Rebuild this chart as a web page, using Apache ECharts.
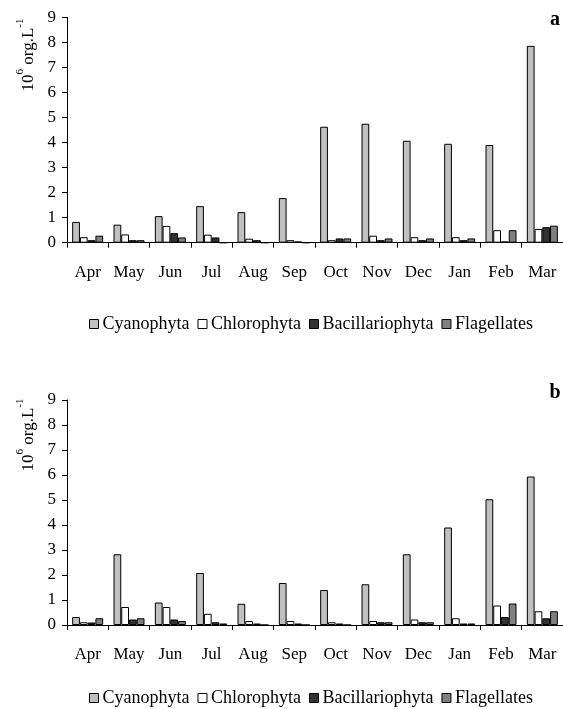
<!DOCTYPE html>
<html>
<head>
<meta charset="utf-8">
<script src="https://cdn.jsdelivr.net/npm/echarts@6/dist/echarts.min.js"></script>
<style>html,body{margin:0;padding:0;background:#fff;}#c{width:563px;height:709px;}</style>
</head>
<body>
<div id="c"></div>
<script>
const months = ['Apr','May','Jun','Jul','Aug','Sep','Oct','Nov','Dec','Jan','Feb','Mar'];
const seriesNames = ['Cyanophyta','Chlorophyta','Bacillariophyta','Flagellates'];
const yTicks = [0,1,2,3,4,5,6,7,8,9];
// panel a
const cyanoA  = [0.83, 0.72, 1.06, 1.46, 1.22, 1.78, 4.63, 4.75, 4.07, 3.95, 3.90, 7.86];
const chloroA = [0.22, 0.33, 0.67, 0.32, 0.16, 0.10, 0.10, 0.28, 0.22, 0.22, 0.50, 0.55];
const bacilA  = [0.10, 0.10, 0.38, 0.21, 0.10, 0.05, 0.17, 0.10, 0.10, 0.10, 0.05, 0.62];
const flagA   = [0.28, 0.10, 0.21, 0, 0, 0, 0.17, 0.17, 0.17, 0.17, 0.50, 0.68];
// panel b
const cyanoB  = [0.32, 2.83, 0.90, 2.08, 0.85, 1.68, 1.40, 1.63, 2.83, 3.90, 5.03, 5.94];
const chloroB = [0.11, 0.72, 0.72, 0.45, 0.16, 0.16, 0.11, 0.16, 0.22, 0.27, 0.78, 0.55];
const bacilB  = [0.10, 0.22, 0.22, 0.11, 0.06, 0.06, 0.06, 0.11, 0.11, 0.06, 0.32, 0.27];
const flagB   = [0.27, 0.27, 0.16, 0.06, 0, 0, 0, 0.11, 0.11, 0.06, 0.86, 0.55];

const colors = ['#c0c0c0', '#ffffff', '#333333', '#808080'];
const FONT = '"Liberation Serif", "Times New Roman", serif';

const chart = echarts.init(document.getElementById('c'), null, {renderer: 'canvas'});

function xAxis(gi) {
  return {
    type: 'category', gridIndex: gi, data: months,
    axisLine: {lineStyle: {color: '#000', width: 1}},
    axisTick: {show: true, length: 5, alignWithLabel: false, lineStyle: {color: '#000'}},
    axisLabel: {color: '#000', fontFamily: FONT, fontSize: 17, margin: 21, interval: 0}
  };
}
function yAxis(gi) {
  return {
    type: 'value', gridIndex: gi, min: 0, max: yTicks[yTicks.length-1], interval: 1,
    axisLine: {show: true, lineStyle: {color: '#000', width: 1}},
    axisTick: {show: true, length: 5, lineStyle: {color: '#000'}},
    splitLine: {show: false},
    axisLabel: {color: '#000', fontFamily: FONT, fontSize: 17, margin: 11}
  };
}
function bars(data, gi) {
  return data.map((d, i) => ({
    name: seriesNames[i], type: 'bar', xAxisIndex: gi, yAxisIndex: gi, data: d,
    barGap: '0%', barCategoryGap: '25%',
    itemStyle: {color: colors[i], borderColor: '#000', borderWidth: 1},
    emphasis: {disabled: true}, animation: false
  }));
}
function legend(top) {
  return {
    top: top, left: 84, data: seriesNames, icon: 'rect',
    itemWidth: 9, itemHeight: 9, itemGap: 8,
    itemStyle: {borderColor: '#000', borderWidth: 1},
    textStyle: {color: '#000', fontFamily: FONT, fontSize: 18, padding: [0,0,0,-1]},
    selectedMode: false
  };
}
function yTitle(x, y) {
  return {
    type: 'text', x: x, y: y, rotation: Math.PI / 2,
    style: {
      text: '{n|10}{s|6}{n| org.L}{s|-1}',
      align: 'center', verticalAlign: 'middle',
      fill: '#000', font: '17px ' + FONT,
      rich: {
        n: {fontFamily: FONT, fontSize: 17, lineHeight: 22, verticalAlign: 'bottom', fill: '#000'},
        s: {fontFamily: FONT, fontSize: 11, lineHeight: 22, verticalAlign: 'top', fill: '#000'}
      }
    }
  };
}

chart.setOption({
  animation: false,
  backgroundColor: '#fff',
  grid: [
    {left: 67, right: 0, top: 17.3, height: 225.4},
    {left: 67, right: 0, top: 400, height: 225}
  ],
  xAxis: [xAxis(0), xAxis(1)],
  yAxis: [yAxis(0), yAxis(1)],
  legend: [legend(310), legend(684)],
  series: bars([cyanoA, chloroA, bacilA, flagA], 0).concat(bars([cyanoB, chloroB, bacilB, flagB], 1)),
  graphic: [
    yTitle(26, 55),
    yTitle(26, 435),
    {type: 'text', x: 555, y: 20, style: {text: 'a', align: 'center', verticalAlign: 'middle', fill: '#000', font: 'bold 20px ' + FONT}},
    {type: 'text', x: 555, y: 393, style: {text: 'b', align: 'center', verticalAlign: 'middle', fill: '#000', font: 'bold 20px ' + FONT}}
  ]
});
</script>
</body>
</html>
